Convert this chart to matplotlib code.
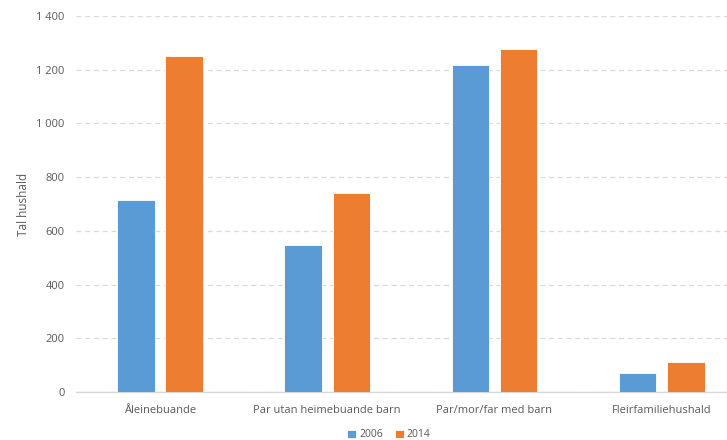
import matplotlib.pyplot as plt
import numpy as np
from matplotlib.ticker import FuncFormatter

# Data
categories = ["Åleinebuande", "Par utan heimebuande barn", "Par/mor/far med barn", "Fleirfamiliehushald"]
values_2006 = [715, 547, 1217, 70]
values_2014 = [1253, 741, 1276, 110]
series_labels = ["2006", "2014"]

BLUE = "#5B9BD5"
ORANGE = "#ED7D31"
TEXT = "#595959"
GRID = "#D9D9D9"

plt.rcParams["font.family"] = ["Open Sans", "DejaVu Sans"]

fig = plt.figure(figsize=(7.27, 4.4), dpi=100)
ax = fig.add_axes([0.1045, 0.109, 0.8955, 0.8545])

x = np.arange(len(categories))
width = 0.224
offset = 0.144
ax.bar(x - offset, values_2006, width, color=BLUE, edgecolor="white", linewidth=0.6,
       label=series_labels[0], zorder=3)
ax.bar(x + offset, values_2014, width, color=ORANGE, edgecolor="white", linewidth=0.6,
       label=series_labels[1], zorder=3)

ax.set_xlim(-0.502, 3.39)
ax.set_ylim(0, 1400)
ax.set_yticks(np.arange(0, 1401, 200))
ax.yaxis.set_major_formatter(FuncFormatter(lambda v, _: f"{int(v):,}".replace(",", " ")))
ax.set_xticks(x)
ax.set_xticklabels(categories)

ax.grid(axis="y", color=GRID, linestyle=(0, (4, 3)), linewidth=0.9, zorder=0)
for side in ["top", "right", "left"]:
    ax.spines[side].set_visible(False)
ax.spines["bottom"].set_color(GRID)
ax.spines["bottom"].set_linewidth(1.0)

ax.tick_params(axis="both", length=0, labelsize=8, labelcolor=TEXT)
ax.tick_params(axis="x", pad=9)
ax.tick_params(axis="y", pad=8)
ax.set_ylabel("Tal hushald", fontsize=8.5, color=TEXT)
ax.yaxis.set_label_coords(-0.07, 0.5)

fig.legend(loc="lower center", bbox_to_anchor=(0.535, -0.022), ncol=2, frameon=False,
           fontsize=7.5, handlelength=0.8, handleheight=0.8, handletextpad=0.3,
           columnspacing=1.2, labelcolor=TEXT)

fig.savefig("out.png", dpi=100)
